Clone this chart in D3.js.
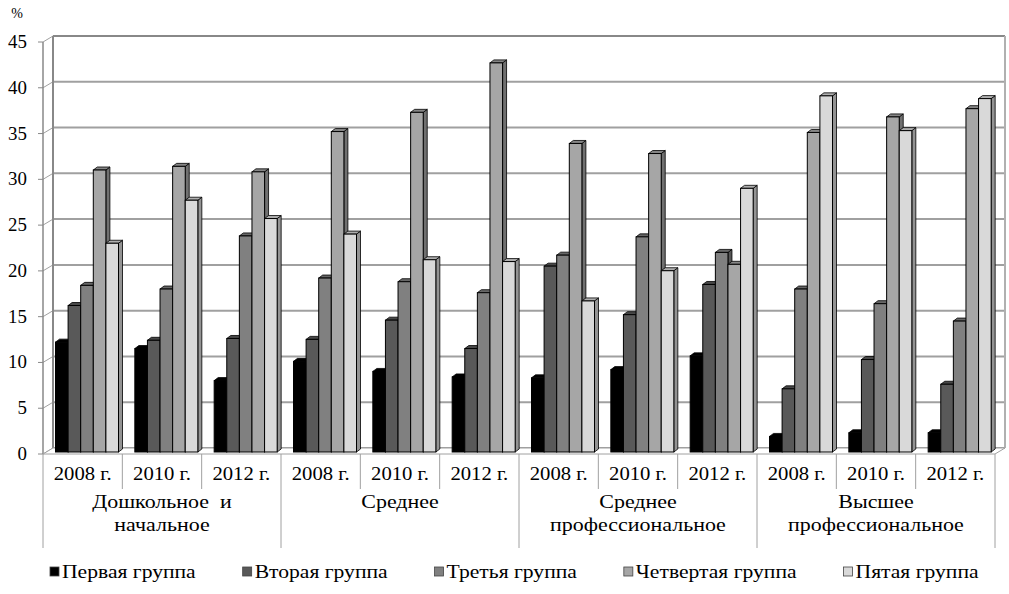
<!DOCTYPE html>
<html>
<head>
<meta charset="utf-8">
<script src="https://cdn.jsdelivr.net/npm/d3@7"></script>
<style>
  body { margin: 0; background: #fff; }
  svg { display: block; }
</style>
</head>
<body>
<svg width="1009" height="594" font-family="'Liberation Serif', 'DejaVu Serif', 'Times New Roman', serif"></svg>
<script>
// data
var groupLabels = [["Дошкольное  и", "начальное"], ["Среднее"], ["Среднее", "профессиональное"], ["Высшее", "профессиональное"]];
var years = ["2008 г.", "2010 г.", "2012 г."];
var seriesNames = ["Первая группа", "Вторая группа", "Третья группа", "Четвертая группа", "Пятая группа"];
var yTicks = [0, 5, 10, 15, 20, 25, 30, 35, 40, 45];

var first  = [12.0, 11.3, 7.8, 9.9, 8.8, 8.2, 8.1, 9.0, 10.5, 1.7, 2.1, 2.1];
var second = [16.0, 12.2, 12.4, 12.3, 14.4, 11.3, 20.3, 15.0, 18.3, 6.9, 10.1, 7.4];
var third  = [18.2, 17.8, 23.6, 19.0, 18.6, 17.4, 21.5, 23.5, 21.8, 17.8, 16.2, 14.3];
var fourth = [30.8, 31.2, 30.6, 35.0, 37.1, 42.5, 33.7, 32.6, 20.5, 34.9, 36.6, 37.5];
var fifth  = [22.8, 27.5, 25.5, 23.8, 21.0, 20.8, 16.5, 19.8, 28.8, 38.9, 35.1, 38.6];

var series = [first, second, third, fourth, fifth];
var colors = ["#000000", "#595959", "#808080", "#a6a6a6", "#d9d9d9"];

// categories: every year inside every group
var categories = [];
groupLabels.forEach(function(g, gi) {
	years.forEach(function(y) { categories.push(gi + "|" + y); });
});

var svg = d3.select("svg");

// text is a bit wider than normal in the picture
function label(px, py, str, size, sx, anchor) {
	return svg.append("text")
		.attr("transform", "translate(" + px + "," + py + ") scale(" + sx + ",1)")
		.attr("text-anchor", anchor || "start")
		.style("font-size", size + "px")
		.style("white-space", "pre")
		.attr("fill", "#000")
		.text(str);
}

// 3d offsets
var wallDx = 10, wallDy = -6;   // front plane -> back wall
var depthX = 4, depthY = -3;    // bar depth

var x = d3.scaleBand().domain(categories).range([43, 995]);
var inner = d3.scaleBand().domain(d3.range(5)).range([12.5, 75.5]);
var yFront = d3.scaleLinear().domain([0, 45]).range([454, 42]);
var yBar = d3.scaleLinear().domain([0, 45]).range([452, 40]);

var gridColor = "#a0a0a0";

// horizontal gridlines on back wall + side wall
yTicks.forEach(function(t) {
	var yf = yFront(t);
	svg.append("line")
		.attr("x1", 43 + wallDx).attr("x2", 995 + wallDx)
		.attr("y1", yf + wallDy).attr("y2", yf + wallDy)
		.attr("stroke", t == 45 ? "#888" : gridColor).attr("stroke-width", 2);
	svg.append("line")
		.attr("x1", 43).attr("x2", 43 + wallDx)
		.attr("y1", yf).attr("y2", yf + wallDy)
		.attr("stroke", gridColor).attr("stroke-width", 1);
	svg.append("line")
		.attr("x1", 38).attr("x2", 43)
		.attr("y1", yf).attr("y2", yf)
		.attr("stroke", "#888").attr("stroke-width", 1);
	label(27, yf + 6, String(t), 18, 1.05, "end");
});

// wall edges
svg.append("line")
	.attr("x1", 43 + wallDx).attr("x2", 43 + wallDx)
	.attr("y1", yFront(45) + wallDy).attr("y2", yFront(0) + wallDy)
	.attr("stroke", "#888").attr("stroke-width", 2);
svg.append("line")
	.attr("x1", 995 + wallDx).attr("x2", 995 + wallDx)
	.attr("y1", yFront(45) + wallDy).attr("y2", yFront(0) + wallDy)
	.attr("stroke", "#b0b0b0").attr("stroke-width", 2);
svg.append("line")
	.attr("x1", 43).attr("x2", 43)
	.attr("y1", yFront(45)).attr("y2", yFront(0))
	.attr("stroke", "#888").attr("stroke-width", 1.5);
// floor
svg.append("path")
	.attr("d", "M43," + yFront(0) + "L995," + yFront(0) + "L" + (995 + wallDx) + "," + (yFront(0) + wallDy) +
		"L" + (43 + wallDx) + "," + (yFront(0) + wallDy) + "Z")
	.attr("fill", "#fff").attr("stroke", gridColor).attr("stroke-width", 1);

label(17, 18, "%", 14, 1, "middle");

// bars
categories.forEach(function(c, ci) {
	series.forEach(function(vals, si) {
		var bx = x(c) + inner(si);
		var bw = inner.bandwidth();
		var top = yBar(vals[ci]);
		var bottom = yBar(0);
		var col = d3.color(colors[si]);
		var g = svg.append("g");
		g.append("path")
			.attr("d", "M" + (bx + bw) + "," + bottom + "L" + (bx + bw + depthX) + "," + (bottom + depthY) +
				"L" + (bx + bw + depthX) + "," + (top + depthY) + "L" + (bx + bw) + "," + top + "Z")
			.attr("fill", col.darker(1.1))
			.attr("stroke", "#000").attr("stroke-width", 0.8);
		g.append("path")
			.attr("d", "M" + bx + "," + top + "L" + (bx + bw) + "," + top + "L" + (bx + bw + depthX) + "," + (top + depthY) +
				"L" + (bx + depthX) + "," + (top + depthY) + "Z")
			.attr("fill", col.darker(0.6))
			.attr("stroke", "#000").attr("stroke-width", 0.8);
		g.append("rect")
			.attr("x", bx).attr("y", top)
			.attr("width", bw).attr("height", bottom - top)
			.attr("fill", colors[si])
			.attr("stroke", "#000").attr("stroke-width", 1);
	});
});

// category axis
var axisY = yFront(0);
categories.forEach(function(c, ci) {
	var isGroupEdge = ci % 3 == 0;
	svg.append("line")
		.attr("x1", x(c)).attr("x2", x(c))
		.attr("y1", axisY).attr("y2", isGroupEdge ? 548 : 489)
		.attr("stroke", gridColor).attr("stroke-width", 1);
	label(x(c) + x.bandwidth() / 2, 480, years[ci % 3], 18, 1.15, "middle");
});
svg.append("line")
	.attr("x1", 995).attr("x2", 995)
	.attr("y1", axisY).attr("y2", 548)
	.attr("stroke", gridColor).attr("stroke-width", 1);

groupLabels.forEach(function(lines, gi) {
	var cx = x(gi + "|" + years[0]) + x.bandwidth() * 1.5;
	lines.forEach(function(l, li) {
		label(cx, 508 + li * 23, l, 18, 1.22, "middle");
	});
});

// legend
var lx = 50;
seriesNames.forEach(function(name, si) {
	svg.append("rect")
		.attr("x", lx).attr("y", 567)
		.attr("width", 9).attr("height", 9)
		.attr("fill", colors[si])
		.attr("stroke", "#444").attr("stroke-width", 0.8);
	var t = label(lx + 12, 578, name, 18, 1.2, "start");
	lx += 12 + t.node().getComputedTextLength() * 1.2 + 47;
});
</script>
</body>
</html>
